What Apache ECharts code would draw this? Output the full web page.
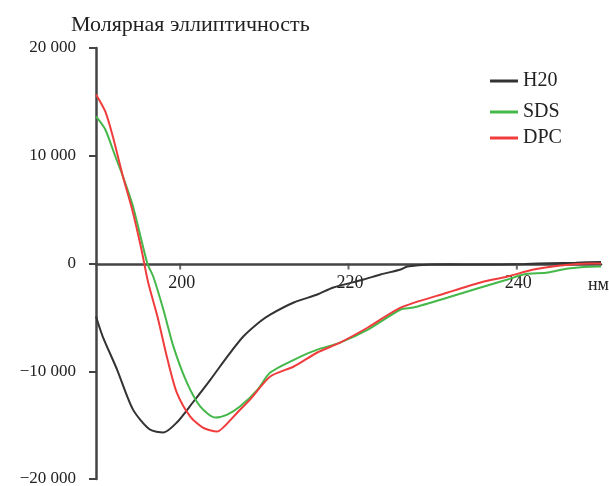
<!DOCTYPE html>
<html>
<head>
<meta charset="utf-8">
<script src="https://cdn.jsdelivr.net/npm/echarts@6/dist/echarts.min.js"></script>
<style>html,body{margin:0;padding:0;background:#fff}#c{width:609px;height:486px}</style>
</head>
<body>
<div id="c"></div>
<script>
var yTitle = 'Молярная эллиптичность';
var xUnit = 'нм';
var xTicks = [200, 220, 240];
var yTicks = [-20000, -10000, 0, 10000, 20000];

var nmH20 = [190, 190.8, 192.5, 194.4, 196.4, 198.0, 199.6, 201.5, 203.6, 205.6, 207.5, 209.5, 210.7, 213.5, 216.3, 218.2, 221.8, 223.8, 226.2, 227.0, 229.8, 232, 235, 238, 241, 244, 247, 250];
var valH20 = [-4920, -6780, -9840, -13560, -15410, -15690, -14760, -12900, -10770, -8640, -6780, -5390, -4740, -3620, -2880, -2230, -1490, -1020, -560, -280, -90, -80, -100, -90, -40, 20, 80, 150];

var nmSDS = [190, 191.1, 192.3, 193.2, 194.4, 196.1, 196.8, 198.0, 199.2, 200.8, 202.4, 204.2, 205.6, 207.1, 209.2, 210.7, 214.3, 216.3, 219.0, 222.3, 226.2, 227.7, 231.8, 235.7, 238.9, 240.8, 243.7, 246.1, 249.6, 250];
var valSDS = [13650, 12440, 9930, 8080, 5290, 0, -1210, -4270, -7710, -11050, -13280, -14300, -14020, -13280, -11700, -10120, -8640, -7990, -7340, -6130, -4270, -4090, -3160, -2230, -1490, -1020, -840, -460, -280, -280];

var nmDPC = [190, 191.1, 192.0, 193.2, 194.3, 195.4, 196.2, 197.3, 198.5, 199.6, 201.2, 202.7, 204.4, 205.1, 206.8, 208.3, 210.7, 213.5, 216.3, 219.0, 222.3, 226.2, 231.8, 235.7, 238.9, 242.0, 245.2, 248.5, 250];
var valDPC = [15690, 14110, 11790, 8080, 5000, 1300, -1760, -4920, -8910, -11980, -14210, -15230, -15600, -15230, -13830, -12630, -10490, -9560, -8260, -7340, -5940, -4090, -2690, -1760, -1210, -560, -190, 0, 0];

var names = ['H20', 'SDS', 'DPC'];
var colors = ['#333333', '#45b84a', '#f03c3c'];

function pairs(xs, ys) { return xs.map(function (x, i) { return [x, ys[i]]; }); }
function fmt(v) {
  var a = Math.abs(v), s = String(a);
  if (a >= 1000) s = s.slice(0, s.length - 3) + ' ' + s.slice(-3);
  return (v < 0 ? '\u2212' : '') + s;
}

var font = 'Liberation Serif';
var chart = echarts.init(document.getElementById('c'), null, { renderer: 'canvas' });
var legendTops = [66, 97, 123];
chart.setOption({
  animation: false,
  backgroundColor: '#fff',
  title: {
    text: yTitle, left: 66, top: 9,
    textStyle: { fontFamily: font, fontSize: 22, fontWeight: 'normal', color: '#222' }
  },
  legend: names.map(function (n, i) {
    return {
      data: [n], left: 485, top: legendTops[i], orient: 'vertical',
      icon: 'rect', itemWidth: 28, itemHeight: 3, itemGap: 6,
      textStyle: { fontFamily: font, fontSize: 20, color: '#222' }
    };
  }),
  grid: { left: 96, right: 8, top: 48, bottom: 7, containLabel: false, outerBoundsMode: 'none' },
  xAxis: [{
    type: 'value', min: 190, max: 250, position: 'bottom', offset: -215,
    axisLine: { onZero: false, lineStyle: { color: '#444', width: 2.5 } },
    axisTick: { show: false },
    axisLabel: { customValues: xTicks, margin: 10, fontFamily: font, fontSize: 18, color: '#222', padding: [0, 0, 0, 3] },
    name: xUnit, nameLocation: 'end', nameGap: 8,
    nameTextStyle: { fontFamily: font, fontSize: 18, color: '#222', align: 'right', verticalAlign: 'top', padding: [12, 0, 0, 0] },
    splitLine: { show: false }
  }],
  yAxis: {
    type: 'value', min: -20000, max: 20000, interval: 10000,
    axisLine: { show: true, onZero: false, lineStyle: { color: '#444', width: 2.5 } },
    axisTick: { show: true, length: 7, lineStyle: { color: '#444', width: 2 } },
    axisLabel: { margin: 20, fontFamily: font, fontSize: 17, color: '#222', formatter: fmt },
    splitLine: { show: false }
  },
  series: [
    { name: names[0], type: 'line', data: pairs(nmH20, valH20) },
    { name: names[1], type: 'line', data: pairs(nmSDS, valSDS) },
    { name: names[2], type: 'line', data: pairs(nmDPC, valDPC) },
    {
      name: 'ticks', type: 'scatter', silent: true, z: 3,
      data: xTicks.map(function (t) { return [t, 0]; }),
      symbol: 'rect', symbolSize: [2, 6], symbolOffset: [0, 3],
      itemStyle: { color: '#444' }
    }
  ].map(function (s, i) {
    if (s.type === 'line') {
      s.showSymbol = false; s.smooth = 0.25; s.color = colors[i];
      s.lineStyle = { width: 2, color: colors[i] };
    }
    return s;
  })
});
</script>
</body>
</html>
